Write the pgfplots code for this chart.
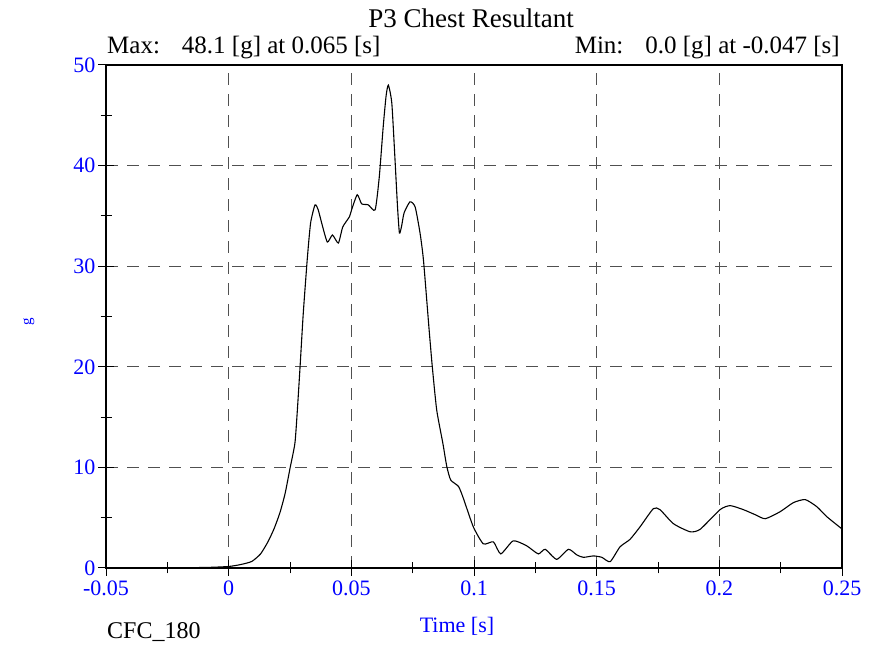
\documentclass[border=0pt]{standalone}
\usepackage{pgfplots}
\pgfplotsset{compat=1.18}
\usepackage{fontspec}
\setmainfont{Liberation Serif}

\definecolor{tickblue}{RGB}{0,0,255}
\definecolor{gridgray}{RGB}{80,80,80}

\begin{document}
\begin{tikzpicture}[x=1bp,y=1bp]
\useasboundingbox (0,0) rectangle (882,647);
\begin{axis}[
    at={(106bp,79bp)}, anchor=south west,
    scale only axis,
    width=736bp, height=503bp,
    xmin=-0.05, xmax=0.25,
    ymin=0, ymax=50,
    xtick={-0.05,0,0.05,0.1,0.15,0.2,0.25},
    xticklabels={-0.05,0,0.05,0.1,0.15,0.2,0.25},
    ytick={0,10,20,30,40,50},
    minor xtick={-0.025,0.025,0.075,0.125,0.175,0.225},
    minor ytick={5,15,25,35,45},
    xtick pos=bottom, ytick pos=left,
    tick align=center,
    major tick length=16bp,
    minor tick length=11bp,
    every tick/.style={black, line width=1bp},
    axis line style={line width=1.3bp},
    grid=major,
    major grid style={gridgray, line width=1bp, dash pattern=on 12bp off 9bp},
    /pgf/number format/assume math mode=true,
    tick label style={tickblue, font=\fontsize{22bp}{24bp}\selectfont},
    xticklabel style={yshift=-1bp},
    yticklabel style={xshift=1bp},
    scaled ticks=false,
    clip=true,
]
\addplot[black, line width=1.1bp, smooth, tension=0.35] coordinates {
(-0.05,0) (-0.047,0) (-0.03,0.02) (-0.01,0.05) (0,0.15) (0.005,0.35)
(0.0094,0.65) (0.013,1.4) (0.016,2.6) (0.0185,3.9) (0.0209,5.5) (0.023,7.4)
(0.025,9.9) (0.027,12.4) (0.028,15.7) (0.0291,20) (0.0304,25.3) (0.0321,30.9)
(0.0334,34.3) (0.0352,36.1) (0.0365,35.6) (0.0379,34.3) (0.0402,32.4)
(0.0423,33.1) (0.0447,32.3) (0.0465,33.9) (0.0492,34.9) (0.0501,35.6)
(0.0524,37.1) (0.0542,36.2) (0.0569,36.1) (0.0597,35.6) (0.0614,38.9)
(0.063,43.9) (0.0642,47) (0.0651,48.0) (0.0665,46.2) (0.0678,40.6)
(0.0688,36) (0.0696,33.3) (0.0705,34) (0.0715,35.3) (0.0739,36.4)
(0.076,35.9) (0.078,33.3) (0.0794,30.6) (0.0816,24) (0.083,20)
(0.0848,15.7) (0.0873,12.4) (0.0889,10.1) (0.0905,8.75) (0.0937,8.1)
(0.0957,6.9) (0.0997,4.1) (0.1038,2.4) (0.1079,2.6) (0.1109,1.4)
(0.116,2.7) (0.1215,2.2) (0.1262,1.4) (0.129,1.86) (0.1337,0.86)
(0.1385,1.86) (0.1419,1.3) (0.1446,1.06) (0.1487,1.2) (0.1521,1.06)
(0.1555,0.63) (0.1595,2.1) (0.1636,2.85) (0.1677,4.1) (0.1731,5.9)
(0.1758,5.8) (0.1813,4.4) (0.1881,3.6) (0.1922,3.85) (0.2003,5.8)
(0.2044,6.2) (0.2098,5.8) (0.2146,5.3) (0.2187,4.9) (0.2248,5.6)
(0.2302,6.5) (0.235,6.8) (0.2397,6.1) (0.2438,5.1) (0.2499,3.9)
};
\end{axis}
\node[anchor=base, font=\fontsize{27bp}{30bp}\selectfont] at (471,619) {P3 Chest Resultant};
\node[anchor=base west, inner sep=0pt, font=\fontsize{25bp}{28bp}\selectfont] at (107,593) {Max:\hspace{22bp}48.1 [g] at 0.065 [s]};
\node[anchor=base east, inner sep=0pt, font=\fontsize{25bp}{28bp}\selectfont] at (840,593) {Min:\hspace{22bp}0.0 [g] at -0.047 [s]};
\node[anchor=base, inner sep=0pt, tickblue, font=\fontsize{22bp}{24bp}\selectfont] at (457,14) {Time [s]};
\node[anchor=base west, inner sep=0pt, font=\fontsize{24bp}{27bp}\selectfont] at (107,8) {CFC\_180};
\node[anchor=base, inner sep=0pt, rotate=90, tickblue, font=\fontsize{15bp}{17bp}\selectfont] at (31,325) {g};
\end{tikzpicture}
\end{document}
